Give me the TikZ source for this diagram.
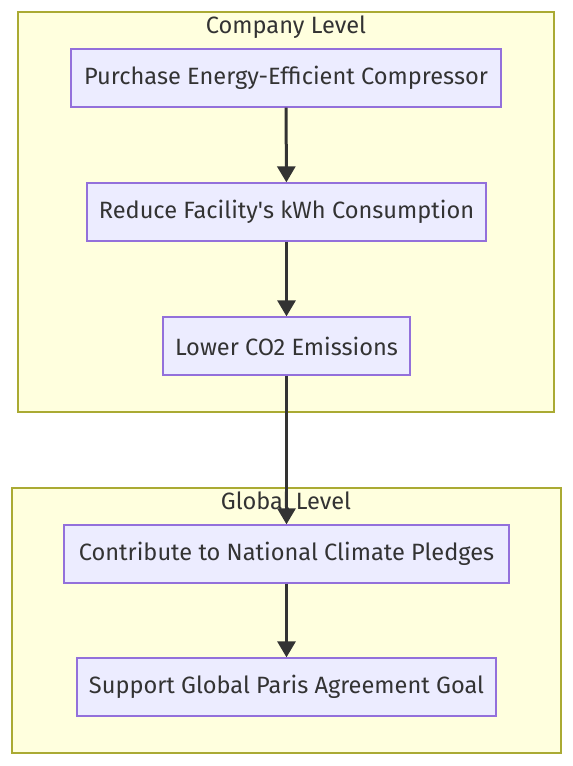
\documentclass[tikz,border=0pt]{standalone}
\usepackage{fontspec}
\setmainfont{Fira Sans}
\usetikzlibrary{arrows.meta,positioning}
\definecolor{grpfill}{HTML}{FFFFDE}
\definecolor{grpline}{HTML}{AAAA33}
\definecolor{boxfill}{HTML}{ECECFF}
\definecolor{boxline}{HTML}{9370DB}
\definecolor{ink}{HTML}{333333}
\tikzset{grp/.style={draw=grpline,fill=grpfill,line width=1.3pt},box/.style={draw=boxline,fill=boxfill,line width=1.3pt,minimum height=58pt,inner sep=0pt,font=\fontsize{23.6}{28}\selectfont,text=ink},flow/.style={-{Triangle[length=16pt,width=18pt]},line width=3pt,draw=ink},ttl/.style={font=\fontsize{23.6}{28}\selectfont,text=ink}}
\begin{document}
\begin{tikzpicture}[x=1pt,y=-1pt]
\useasboundingbox (0,0) rectangle (573,766);
\draw[grp] (18,12) rectangle (554,412);
\draw[grp] (12,488) rectangle (561,753);
\node[ttl] (tcomp) at (286,27) {Company Level};
\node[ttl] (tglob) at (286,501) {Global Level};
\node[box,minimum width=430pt] (buy) at (286,78) {Purchase Energy-Efficient Compressor};
\node[box,minimum width=399pt] (kwh) at (286.5,212) {Reduce Facility\textquotesingle s kWh Consumption};
\node[box,minimum width=247pt] (co2) at (286.5,346) {Lower CO2 Emissions};
\node[box,minimum width=445pt] (natl) at (286.5,554) {Contribute to National Climate Pledges};
\node[box,minimum width=419pt] (paris) at (286.5,687) {Support Global Paris Agreement Goal};
\draw[flow] (buy) -- (kwh);
\draw[flow] (kwh) -- (co2);
\draw[flow] (co2) -- (natl);
\draw[flow] (natl) -- (paris);
\end{tikzpicture}
\end{document}
